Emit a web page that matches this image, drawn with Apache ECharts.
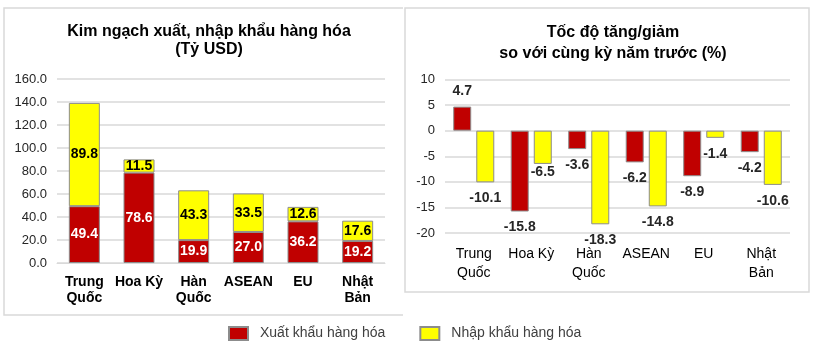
<!DOCTYPE html>
<html>
<head>
<meta charset="utf-8">
<script src="https://cdn.jsdelivr.net/npm/echarts@6/dist/echarts.min.js"></script>
<style>
html,body{margin:0;padding:0;background:#fff;}
#chart{width:828px;height:352px;}
</style>
</head>
<body>
<div id="chart"></div>
<script>
// ---- data ----
const categories = ['Trung\nQuốc', 'Hoa Kỳ', 'Hàn\nQuốc', 'ASEAN', 'EU', 'Nhật\nBản'];
const seriesNames = ['Xuất khẩu hàng hóa', 'Nhập khẩu hàng hóa'];
const exportValue = [49.4, 78.6, 19.9, 27.0, 36.2, 19.2];
const importValue = [89.8, 11.5, 43.3, 33.5, 12.6, 17.6];
const exportGrowth = [4.7, -15.8, -3.6, -6.2, -8.9, -4.2];
const importGrowth = [-10.1, -6.5, -18.3, -14.8, -1.4, -10.6];
const leftTitle = 'Kim ngạch xuất, nhập khẩu hàng hóa\n(Tỷ USD)';
const rightTitle = 'Tốc độ tăng/giảm\nso với cùng kỳ năm trước (%)';

// ---- styling ----
const RED = '#C00000', YELLOW = '#FFFF00', BORDER = '#8c8c8c', GRID = '#d9d9d9';
const FONT = 'Liberation Sans, Arial, sans-serif';

function growthData(arr, special) {
  return arr.map((v, i) => {
    const item = { value: v, label: { position: v >= 0 ? 'top' : 'bottom', distance: v >= 0 ? 8 : 9 } };
    if (special && special[i] !== undefined) item.label.distance = special[i];
    return item;
  });
}

const chart = echarts.init(document.getElementById('chart'), null, { renderer: 'canvas' });
const option = {
  backgroundColor: '#fff',
  animation: false,
  textStyle: { fontFamily: FONT },
  title: [
    { text: leftTitle, left: 204, top: 18, textAlign: 'center',
      textStyle: { fontFamily: FONT, fontSize: 16, fontWeight: 'bold', color: '#000', lineHeight: 18 } },
    { text: rightTitle, left: 608, top: 17, textAlign: 'center',
      textStyle: { fontFamily: FONT, fontSize: 16, fontWeight: 'bold', color: '#000', lineHeight: 21 } }
  ],
  legend: {
    data: seriesNames,
    left: 228, top: 326, padding: 0,
    icon: 'rect',
    itemWidth: 19, itemHeight: 13, itemGap: 34,
    textStyle: { fontFamily: FONT, fontSize: 14, color: '#404040', padding: [0, 0, 0, 7] }
  },
  graphic: [
    { type: 'polyline', shape: { points: [[403, 8], [4, 8], [4, 315], [403, 315]] },
      style: { stroke: GRID, lineWidth: 1.5, fill: null }, silent: true },
    { type: 'rect', shape: { x: 405, y: 8, width: 404, height: 284 },
      style: { stroke: GRID, lineWidth: 1.5, fill: null }, silent: true }
  ],
  grid: [
    { left: 57, right: 443, top: 79, bottom: 89 },
    { left: 445, right: 38, top: 79.5, bottom: 119 }
  ],
  xAxis: [
    { type: 'category', gridIndex: 0, data: categories,
      axisLine: { show: true, lineStyle: { color: GRID } }, axisTick: { show: false },
      axisLabel: { fontFamily: FONT, fontSize: 14, fontWeight: 'bold', color: '#000', margin: 11, lineHeight: 16, interval: 0 } },
    { type: 'category', gridIndex: 1, data: categories,
      axisLine: { show: false, onZero: false }, axisTick: { show: false },
      axisLabel: { fontFamily: FONT, fontSize: 14, color: '#000', margin: 12, lineHeight: 19, interval: 0 } }
  ],
  yAxis: [
    { type: 'value', gridIndex: 0, min: 0, max: 160, interval: 20,
      axisLine: { show: false }, axisTick: { show: false },
      splitLine: { lineStyle: { color: GRID, width: 1.5 } },
      axisLabel: { fontFamily: FONT, fontSize: 13, color: '#262626', margin: 10, formatter: v => v.toFixed(1) } },
    { type: 'value', gridIndex: 1, min: -20, max: 10, interval: 5,
      axisLine: { show: false }, axisTick: { show: false },
      splitLine: { lineStyle: { color: GRID, width: 1.5 } },
      axisLabel: { fontFamily: FONT, fontSize: 13, color: '#262626', margin: 10 } }
  ],
  series: [
    { name: seriesNames[0], type: 'bar', xAxisIndex: 0, yAxisIndex: 0, stack: 'total',
      data: exportValue, barWidth: 31,
      itemStyle: { color: RED, borderColor: BORDER, borderWidth: 1 },
      label: { show: true, position: 'inside', color: '#fff', fontFamily: FONT, fontSize: 14, fontWeight: 'bold',
        formatter: p => p.value.toFixed(1) } },
    { name: seriesNames[1], type: 'bar', xAxisIndex: 0, yAxisIndex: 0, stack: 'total',
      data: importValue, barWidth: 31,
      itemStyle: { color: YELLOW, borderColor: BORDER, borderWidth: 1 },
      label: { show: true, position: 'inside', color: '#000', fontFamily: FONT, fontSize: 14, fontWeight: 'bold',
        formatter: p => p.value.toFixed(1) } },
    { name: seriesNames[0], type: 'bar', xAxisIndex: 1, yAxisIndex: 1,
      data: growthData(exportGrowth), barWidth: 18, barGap: '28%',
      itemStyle: { color: RED, borderColor: BORDER, borderWidth: 1 },
      label: { show: true, color: '#262626', fontFamily: FONT, fontSize: 14, fontWeight: 'bold',
        formatter: p => String(p.value) } },
    { name: seriesNames[1], type: 'bar', xAxisIndex: 1, yAxisIndex: 1,
      data: growthData(importGrowth, { 1: 1 }), barWidth: 18, barGap: '28%',
      itemStyle: { color: YELLOW, borderColor: BORDER, borderWidth: 1 },
      label: { show: true, color: '#262626', fontFamily: FONT, fontSize: 14, fontWeight: 'bold',
        formatter: p => String(p.value) } }
  ]
};
chart.setOption(option);
</script>
</body>
</html>
